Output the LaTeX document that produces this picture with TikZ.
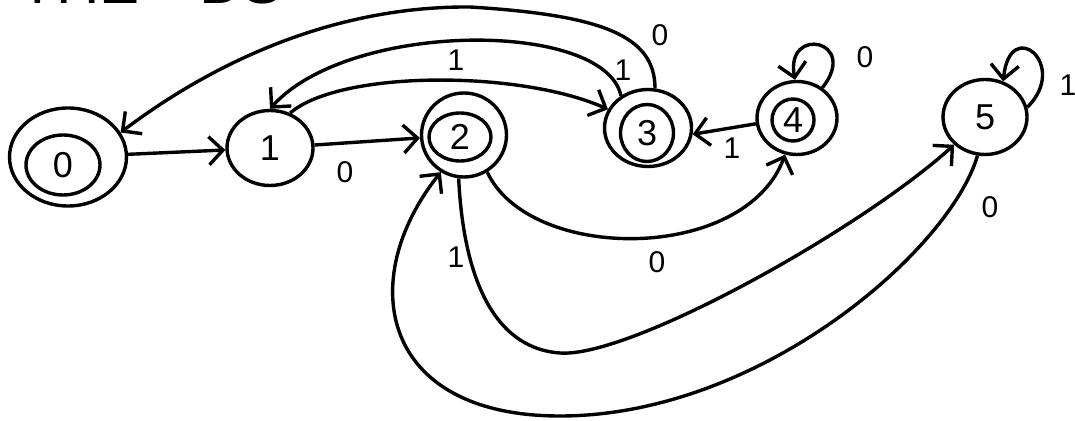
\documentclass[tikz,border=0pt]{standalone}
\usepackage{fontspec}
\setmainfont{Liberation Sans}
\usetikzlibrary{arrows.meta, shapes.geometric}

\begin{document}
\begin{tikzpicture}[x=1pt, y=1pt,
        state/.style={ellipse, draw, line width=3.4pt, inner sep=0pt, font=\fontsize{36}{36}\selectfont},
        trans/.style={line width=3.4pt, -{Straight Barb[length=14pt, width=28pt]}},
        edge_label/.style={font=\fontsize{30}{30}\selectfont}
    ]
    \useasboundingbox (0,0) rectangle (1075,420);

    % title (cut off at the top)
    \node[anchor=base west, font=\fontsize{60}{60}\selectfont] (title) at (16,416) {THE\hspace{60pt}DS};

    % states
    \node[state, minimum width=117pt, minimum height=98pt] (q0) at (68,263) {};
    \node[state, minimum width=74pt, minimum height=60pt] (q0in) at (63,255) {0};
    \node[state, minimum width=86pt, minimum height=75pt] (q1) at (270,272) {1};
    \node[state, minimum width=85pt, minimum height=84pt] (q2) at (464,285) {};
    \node[state, minimum width=62pt, minimum height=48pt] (q2in) at (460,283) {2};
    \node[state, minimum width=87pt, minimum height=77pt] (q3) at (648,292) {};
    \node[state, minimum width=53pt, minimum height=57pt] (q3in) at (647,287) {3};
    \node[state, minimum width=80pt, minimum height=73pt] (q4) at (797,302) {};
    \node[state, minimum width=42pt, minimum height=42pt] (q4in) at (793,300) {4};
    \node[state, minimum width=84pt, minimum height=75pt] (q5) at (985,303) {5};

    % transitions
    \draw[trans] (q0) -- (q1);
    \draw[trans] (q1) -- (q2);
    \draw[trans] (q1.60) .. controls (340,350) and (520,350) .. (q3.155);
    \draw[trans] (q3.130) .. controls (605,400) and (350,400) .. (q1.90);
    \draw[trans] (q3.80) .. controls (655,385) and (600,405) .. (470,413)
                         .. controls (330,414) and (210,355) .. (q0.25);
    \draw[trans] (q4.188) -- (q3.-8);
    \draw[trans] (q4.50) .. controls (860,380) and (785,395) .. (q4.93);
    \draw[trans] (q5.13) .. controls (1070,355) and (1010,405) .. (q5.63);
    \draw[trans] (q2.-58) .. controls (530,157) and (745,157) .. (q4.-108);
    \draw[trans] (q2.-97) .. controls (463,150) and (490,72) .. (560,67)
                          .. controls (630,62) and (860,190) .. (q5.-138);
    \draw[trans] (q5.-101) .. controls (950,170) and (760,4) .. (560,4)
                           .. controls (380,4) and (355,140) .. (q2.-122);

    % labels
    \node[edge_label] (l12) at (345,248) {0};
    \node[edge_label] (l13) at (456,360) {1};
    \node[edge_label] (l31) at (623,350) {1};
    \node[edge_label] (l30) at (660,385) {0};
    \node[edge_label] (l43) at (732,272) {1};
    \node[edge_label] (l44) at (865,363) {0};
    \node[edge_label] (l55) at (1068,335) {1};
    \node[edge_label] (l24) at (657,158) {0};
    \node[edge_label] (l25) at (456,163) {1};
    \node[edge_label] (l52) at (990,213) {0};
\end{tikzpicture}
\end{document}
